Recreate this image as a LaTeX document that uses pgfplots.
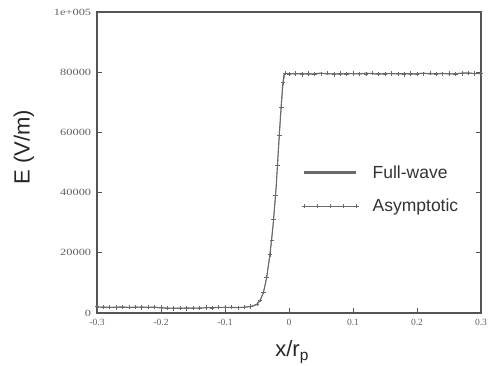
\documentclass[border=0pt]{standalone}
\usepackage{pgfplots}
\pgfplotsset{compat=1.18}
\usepackage{fontspec}
\setmainfont{Liberation Sans}
\newfontfamily\tickfont{Liberation Serif}
\definecolor{curve}{HTML}{6A6A6A}
\definecolor{frame}{HTML}{555555}
\definecolor{ticktext}{HTML}{606060}
\begin{document}
\begin{tikzpicture}
\begin{axis}[
  at={(0,0)}, anchor=south west,
  scale only axis, width=384pt, height=301pt,
  xmin=-0.3, xmax=0.3, ymin=0, ymax=100000,
  axis line style={frame, line width=1.3pt},
  xtick={-0.3,-0.2,-0.1,0,0.1,0.2,0.3},
  xticklabels={-0.3,-0.2,-0.1,0,0.1,0.2,0.3},
  ytick={0,20000,40000,60000,80000,100000},
  yticklabels={0,20000,40000,60000,80000,1e+005},
  tick align=inside, major tick length=5pt,
  tick style={frame, line width=0.9pt},
  xtick pos=bottom, ytick pos=both,
  scaled ticks=false,
  xticklabel style={font=\tickfont\fontsize{9.5}{10}\selectfont, text=ticktext, yshift=-3pt},
  yticklabel style={font=\tickfont\fontsize{9.5}{10}\selectfont, text=ticktext, xscale=1.3, xshift=-1pt},
  xlabel={x/r\textsubscript{p}},
  xlabel style={font=\fontsize{22}{24}\selectfont, text=black!85, at={(axis description cs:0.508,-0.13)}, anchor=center},
  ylabel={E (V/m)},
  ylabel style={font=\fontsize{22}{24}\selectfont, text=black!85, at={(axis description cs:-0.19,0.55)}, anchor=center},
  legend style={at={(axis description cs:0.534,0.49)}, anchor=north west, draw=none, fill=none,
    font=\fontsize{17.5}{20}\selectfont, text=black!80, row sep=19pt, inner sep=0pt,
    legend cell align=left, nodes={inner sep=0pt, anchor=west},
    /tikz/every odd column/.append style={column sep=14pt}},
]
\addplot[curve, line width=1.1pt,
  legend image code/.code={\draw[curve, line width=3pt] (0pt,0pt) -- (52pt,0pt);}]
coordinates {
(-0.30,1900)(-0.29,2000)(-0.28,1850)(-0.27,1950)(-0.26,2050)(-0.25,1800)
(-0.24,1900)(-0.23,2000)(-0.22,1850)(-0.21,1950)(-0.20,1700)(-0.19,1600)
(-0.18,1650)(-0.17,1550)(-0.16,1700)(-0.15,1600)(-0.14,1650)(-0.13,1750)
(-0.12,1800)(-0.11,1850)(-0.10,1900)(-0.09,1850)(-0.08,1800)(-0.07,1900)
(-0.06,2100)(-0.055,2400)(-0.05,2900)(-0.045,4200)(-0.04,6800)(-0.035,11500)
(-0.03,19000)(-0.025,29000)(-0.02,42000)(-0.0175,51000)(-0.015,60000)
(-0.0125,68000)(-0.01,75500)(-0.008,79000)(-0.006,79600)(0,79500)
(0.01,79400)(0.02,79600)(0.03,79300)(0.04,79500)(0.05,79700)(0.06,79400)
(0.07,79500)(0.08,79300)(0.09,79600)(0.10,79500)(0.11,79400)(0.12,79700)
(0.13,79500)(0.14,79300)(0.15,79600)(0.16,79500)(0.17,79400)(0.18,79600)
(0.19,79300)(0.20,79500)(0.21,79700)(0.22,79400)(0.23,79500)(0.24,79600)
(0.25,79400)(0.26,79500)(0.27,79700)(0.28,79800)(0.29,79500)(0.30,79600)
};
\addlegendentry{Full-wave}
\addplot[curve, line width=0.5pt, mark=+, mark size=2.2pt, mark options={line width=0.6pt},
  legend image code/.code={\draw[curve, line width=0.5pt, mark=+, mark size=2.2pt, mark options={line width=0.6pt}] plot coordinates {(0pt,0pt)(13pt,0pt)(26pt,0pt)(39pt,0pt)(52pt,0pt)};}]
coordinates {
(-0.30,2100)(-0.29,1900)(-0.28,2000)(-0.27,1800)(-0.26,2000)(-0.25,1900)
(-0.24,2050)(-0.23,1850)(-0.22,2000)(-0.21,1900)(-0.20,1800)(-0.19,1700)
(-0.18,1500)(-0.17,1700)(-0.16,1550)(-0.15,1700)(-0.14,1600)(-0.13,1800)
(-0.12,1700)(-0.11,1900)(-0.10,1800)(-0.09,1950)(-0.08,1750)(-0.07,2000)
(-0.06,2200)(-0.05,3000)(-0.045,4300)(-0.04,6900)(-0.035,11800)(-0.03,19500)
(-0.027,24000)(-0.024,31000)(-0.021,39000)(-0.018,49000)(-0.015,59000)
(-0.012,68500)(-0.009,76500)(-0.006,79700)(0,79400)
(0.01,79600)(0.02,79300)(0.03,79600)(0.04,79400)(0.05,79500)(0.06,79700)
(0.07,79300)(0.08,79600)(0.09,79400)(0.10,79600)(0.11,79500)(0.12,79400)
(0.13,79700)(0.14,79500)(0.15,79400)(0.16,79600)(0.17,79500)(0.18,79300)
(0.19,79600)(0.20,79400)(0.21,79500)(0.22,79700)(0.23,79400)(0.24,79500)
(0.25,79600)(0.26,79400)(0.27,79600)(0.28,79700)(0.29,79600)(0.30,79500)
};
\addlegendentry{Asymptotic}
\end{axis}
\pgfresetboundingbox
\path (-97pt,-52pt) rectangle (395pt,313pt);
\end{tikzpicture}
\end{document}
